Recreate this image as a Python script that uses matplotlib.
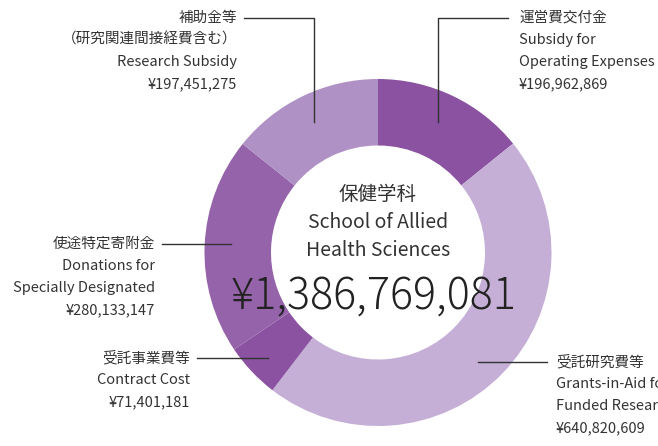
import matplotlib
matplotlib.use("Agg")
import matplotlib.pyplot as plt

plt.rcParams['font.family'] = ['Noto Sans CJK JP', 'DejaVu Sans']

# clockwise from 12 o'clock
names_ja = ['運営費交付金', '受託研究費等', '受託事業費等', '使途特定寄附金', '補助金等']
amounts = [196962869, 640820609, 71401181, 280133147, 197451275]
colors = ['#8a52a1', '#c5afd6', '#8a52a1', '#9563aa', '#b091c5']

center_ja = '保健学科'
center_en = ['School of Allied', 'Health Sciences']
total = sum(amounts)

TEXT = '#333333'
W, H = 658, 446
CX, CY, R = 378, 252.5, 173.5

fig = plt.figure(figsize=(W / 100, H / 100), dpi=100)

ax = fig.add_axes([(CX - R) / W, (H - CY - R) / H, 2 * R / W, 2 * R / H])
ax.pie(amounts, colors=colors, startangle=90, counterclock=False,
       radius=1, wedgeprops=dict(width=1 - 107 / R, linewidth=0))
ax.set_xlim(-1, 1)
ax.set_ylim(-1, 1)
ax.set_aspect('equal')
ax.axis('off')

# overlay in pixel coordinates for labels and leader lines
ov = fig.add_axes([0, 0, 1, 1], facecolor='none')
ov.set_xlim(0, W)
ov.set_ylim(H, 0)
ov.axis('off')

fs = 10.5


def label(x, y, lines, ha):
    for i, s in enumerate(lines):
        ov.text(x, y + i * 22, s, fontsize=fs, color=TEXT, ha=ha, va='center')


def yen(v):
    return '¥{:,}'.format(v)


lw = 1.0
lc = '#333333'

# 運営費交付金
ov.plot([508, 438, 438], [18, 18, 122], color=lc, lw=lw)
label(519, 18, [names_ja[0], 'Subsidy for', 'Operating Expenses', yen(amounts[0])], 'left')

# 受託研究費等 (clipped by the right edge, as in the source)
ov.plot([478, 547], [362, 362], color=lc, lw=lw)
label(556, 362, [names_ja[1], 'Grants-in-Aid for', 'Funded Research', yen(amounts[1])], 'left')

# 受託事業費等
ov.plot([197, 268], [358, 358], color=lc, lw=lw)
label(190, 358, [names_ja[2], 'Contract Cost', yen(amounts[2])], 'right')

# 使途特定寄附金
ov.plot([162, 231], [244, 244], color=lc, lw=lw)
label(155, 244, [names_ja[3], 'Donations for', 'Specially Designated', yen(amounts[3])], 'right')

# 補助金等
ov.plot([244, 314, 314], [18, 18, 122], color=lc, lw=lw)
label(237, 18, [names_ja[4], '（研究関連間接経費含む）', 'Research Subsidy', yen(amounts[4])], 'right')

# centre
ov.text(CX, 195, center_ja, fontsize=14, color=TEXT, ha='center', va='center')
ov.text(CX, 223, center_en[0], fontsize=14, color=TEXT, ha='center', va='center')
ov.text(CX, 250, center_en[1], fontsize=14, color=TEXT, ha='center', va='center')
ov.text(374, 297, yen(total), fontsize=31, fontweight='light',
        color='#222222', ha='center', va='center')

fig.savefig('out.png', dpi=100)
